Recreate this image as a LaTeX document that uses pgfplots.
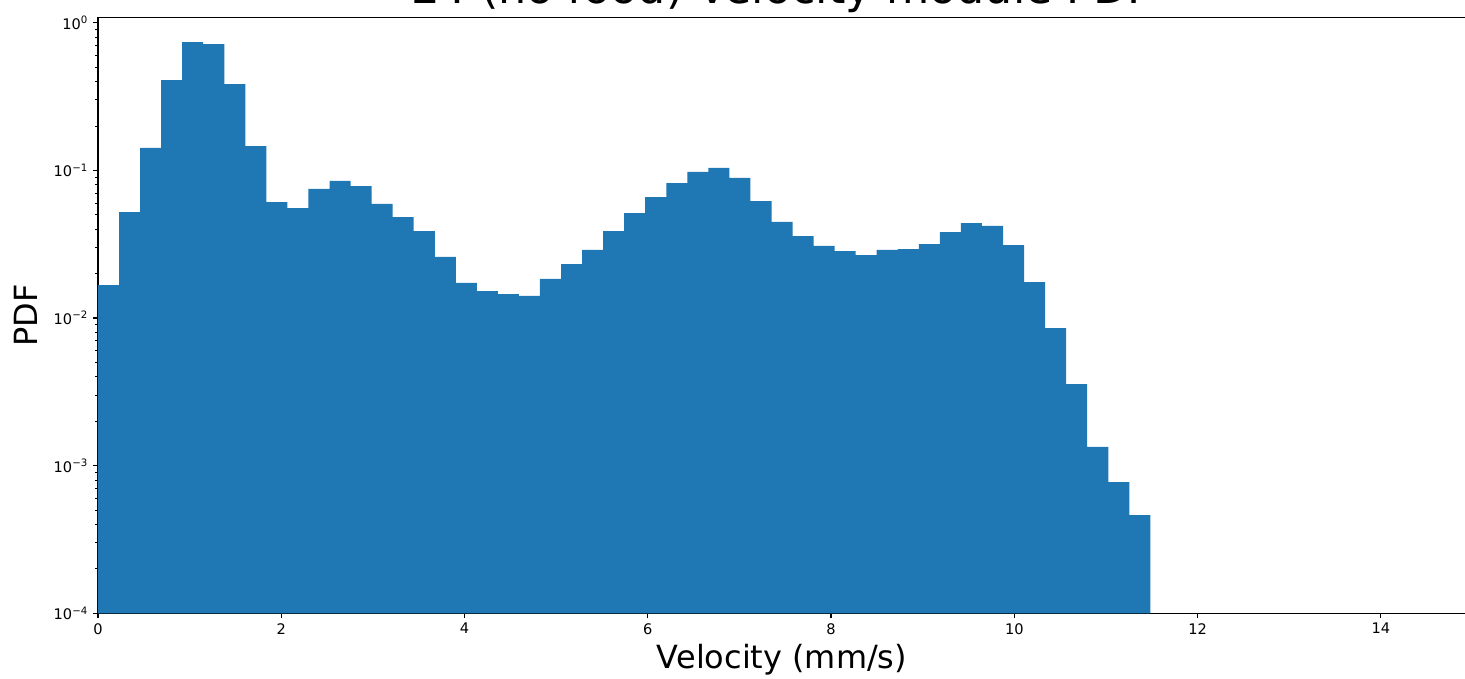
\documentclass[border=0pt]{standalone}
\usepackage{fontspec}
\setmainfont{DejaVu Sans}
\usepackage{pgfplots}
\pgfplotsset{compat=1.18}
\usepackage{pgfplotstable}
\definecolor{mplblue}{HTML}{1F77B4}

% Histogram of the velocity module: left bin edge and PDF value.
% The first and last rows close the filled outline at the bottom of the axis.
\pgfplotstableread{
x       y
0       0.0001
0       0.0167
0.2297  0.0522
0.4594  0.142
0.6891  0.409
0.9188  0.740
1.1485  0.717
1.3782  0.384
1.6079  0.146
1.8376  0.0610
2.0673  0.0556
2.2970  0.0748
2.5267  0.0848
2.7564  0.0783
2.9861  0.0592
3.2158  0.0483
3.4455  0.0388
3.6752  0.0259
3.9049  0.0173
4.1346  0.0152
4.3643  0.0145
4.5940  0.0141
4.8237  0.0184
5.0534  0.0232
5.2831  0.0289
5.5128  0.0388
5.7425  0.0514
5.9722  0.0660
6.2019  0.0821
6.4316  0.0975
6.6613  0.1038
6.8910  0.0888
7.1207  0.0620
7.3504  0.0447
7.5801  0.0359
7.8098  0.0308
8.0395  0.0284
8.2692  0.0267
8.4989  0.0289
8.7286  0.0293
8.9583  0.0317
9.1880  0.0382
9.4177  0.0440
9.6474  0.0420
9.8771  0.0312
10.1068 0.0175
10.3365 0.00855
10.5662 0.00357
10.7959 0.00134
11.0256 0.000774
11.2553 0.000463
11.4850 0.000463
11.4850 0.0001
}\histdata

\begin{document}
\begin{tikzpicture}
\begin{axis}[
  name=ax,
  scale only axis,
  width=984.96pt, height=429.12pt,
  xmin=0, xmax=14.93,
  ymode=log, ymin=1e-4, ymax=1.088,
  axis line style={line width=0.8pt},
  xtick pos=bottom, ytick pos=left,
  tick align=outside,
  major tick length=3.5pt,
  minor tick length=2pt,
  every tick/.style={black, line width=0.8pt},
  every minor tick/.style={black, line width=0.6pt},
  xtick={0,2,4,6,8,10,12,14},
  xticklabel style={font=\fontsize{10.5}{12}\selectfont, inner sep=3.5pt,
    /pgf/number format/assume math mode=true},
  ytick={1e-4,1e-3,1e-2,1e-1,1},
  yticklabels={10\textsuperscript{−4},10\textsuperscript{−3},10\textsuperscript{−2},10\textsuperscript{−1},10\textsuperscript{0}},
  yticklabel style={font=\fontsize{10.5}{12}\selectfont, inner sep=3.5pt},
  title={E4 (no food) Velocity module PDF},
  title style={font=\fontsize{32}{38}\selectfont, anchor=base,
    at={(rel axis cs:0.5,1)}, yshift=4pt},
  xlabel={Velocity (mm/s)},
  xlabel style={font=\fontsize{23}{28}\selectfont, anchor=base,
    at={(rel axis cs:0.5,0)}, yshift=-39.6pt},
  ylabel={PDF},
  ylabel style={font=\fontsize{23}{28}\selectfont, anchor=center,
    at={(rel axis cs:0,0.5)}, yshift=51.8pt},
]
\addplot[const plot, fill=mplblue, draw=none] table[x=x, y=y] {\histdata};
\end{axis}
\pgfresetboundingbox
\useasboundingbox ([xshift=-70.56pt,yshift=-46.8pt]ax.south west)
  rectangle ([xshift=-0.72pt,yshift=12.46pt]ax.north east);
\end{tikzpicture}
\end{document}
